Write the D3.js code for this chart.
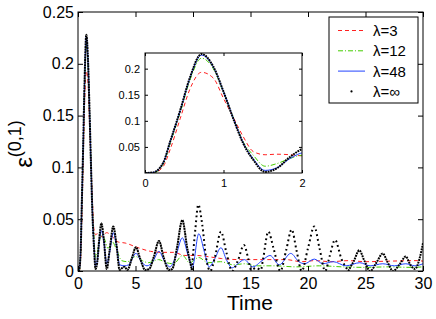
<!DOCTYPE html>
<html>
<head>
<meta charset="utf-8">
<script src="https://cdn.jsdelivr.net/npm/d3@7"></script>
<style>
  body { margin: 0; background: #fff; }
  text { font-family: "Liberation Sans", Arial, Helvetica, sans-serif; }
</style>
</head>
<body>
<div id="chart"></div>
<script>
// ---- data ----
const infT = [0, 0.1, 0.23, 0.32, 0.45, 0.57, 0.72, 0.87, 1.0, 1.13, 1.25, 1.38, 1.53, 1.68, 1.85, 2.03, 2.25, 2.5, 2.75, 3.07, 3.35, 3.62, 3.85, 4.05, 4.3, 4.7, 5.04, 5.4, 5.85, 6.2, 6.6, 7.04, 7.45, 7.9, 8.2, 8.6, 9.07, 9.5, 9.9, 10.2, 10.46, 10.8, 11.15, 11.5, 11.9, 12.43, 12.9, 13.4, 13.9, 14.43, 14.8, 15.05, 15.5, 15.9, 16.1, 16.55, 17.0, 17.6, 18.1, 18.58, 19.0, 19.45, 20.0, 20.55, 21.0, 21.5, 21.9, 22.35, 22.9, 23.5, 24.0, 24.46, 24.9, 25.4, 26.0, 26.5, 26.9, 27.4, 28.0, 28.5, 28.9, 29.3, 29.7, 30];
const infV = [0, 0.001, 0.019, 0.06, 0.121, 0.182, 0.228, 0.204, 0.156, 0.102, 0.057, 0.025, 0.002, 0.009, 0.031, 0.046, 0.03, 0.002, 0.02, 0.043, 0.025, 0.001, 0.003, 0.004, 0.001, 0.013, 0.023, 0.012, 0.001, 0.002, 0.014, 0.029, 0.013, 0.001, 0.002, 0.022, 0.049, 0.022, 0.001, 0.04, 0.064, 0.045, 0.012, 0.0, 0.013, 0.038, 0.018, 0.0, 0.01, 0.025, 0.012, 0.001, 0.003, 0.001, 0.012, 0.038, 0.022, 0.0, 0.02, 0.04, 0.02, 0.0, 0.022, 0.043, 0.022, 0.0, 0.015, 0.03, 0.012, 0.0, 0.01, 0.02, 0.01, 0.0, 0.009, 0.017, 0.009, 0.0, 0.007, 0.014, 0.006, 0.002, 0.012, 0.027];

const l48T = [0, 0.1, 0.23, 0.32, 0.45, 0.57, 0.72, 0.87, 1.0, 1.13, 1.25, 1.38, 1.53, 1.68, 1.85, 2.03, 2.25, 2.5, 2.75, 3.07, 3.35, 3.62, 4.05, 4.4, 5.04, 5.5, 6.0, 6.5, 7.04, 7.5, 8.0, 8.5, 9.07, 9.6, 9.95, 10.5, 11.0, 11.4, 11.9, 12.43, 12.9, 13.4, 13.9, 14.46, 15.2, 16.0, 16.7, 17.5, 18.5, 19.2, 19.7, 20.55, 21.3, 22.2, 23.3, 24.5, 25.4, 26.5, 27.5, 28.5, 29.3, 30];
const l48V = [0, 0.001, 0.019, 0.06, 0.12, 0.181, 0.226, 0.203, 0.156, 0.103, 0.058, 0.027, 0.005, 0.01, 0.028, 0.039, 0.028, 0.007, 0.018, 0.037, 0.024, 0.006, 0.005, 0.006, 0.017, 0.009, 0.005, 0.009, 0.019, 0.01, 0.004, 0.014, 0.032, 0.014, 0.004, 0.036, 0.018, 0.004, 0.012, 0.0225, 0.011, 0.003, 0.007, 0.011, 0.004, 0.01, 0.015, 0.006, 0.017, 0.009, 0.007, 0.0115, 0.007, 0.009, 0.005, 0.008, 0.005, 0.007, 0.005, 0.007, 0.005, 0.007];

const l12T = [0, 0.1, 0.23, 0.32, 0.45, 0.57, 0.72, 0.87, 1.0, 1.13, 1.25, 1.38, 1.53, 1.68, 1.85, 2.0, 2.3, 2.6, 3.0, 3.3, 3.8, 4.3, 5.0, 5.6, 6.1, 7.0, 7.7, 8.3, 9.1, 9.7, 10.5, 11.3, 12.4, 13.5, 14.5, 15.5, 17, 19, 21, 23, 25, 27, 29, 30];
const l12V = [0, 0.0, 0.017, 0.057, 0.117, 0.177, 0.22, 0.2, 0.155, 0.104, 0.06, 0.034, 0.013, 0.018, 0.028, 0.034, 0.031, 0.022, 0.028, 0.022, 0.01, 0.009, 0.014, 0.01, 0.008, 0.011, 0.008, 0.007, 0.015, 0.008, 0.013, 0.008, 0.009, 0.006, 0.007, 0.005, 0.005, 0.004, 0.005, 0.004, 0.0035, 0.004, 0.0035, 0.004];

const l3T = [0, 0.1, 0.23, 0.32, 0.45, 0.57, 0.72, 0.87, 1.0, 1.13, 1.25, 1.38, 1.53, 1.68, 1.85, 2.0, 2.5, 3.0, 3.5, 4.1, 5.1, 6.3, 7.3, 8.3, 9.3, 10.3, 11.2, 12.5, 14.1, 16, 18.1, 19.4, 20.6, 22, 23.5, 25, 27, 29.5, 30];
const l3V = [0, 0.0, 0.012, 0.045, 0.105, 0.16, 0.193, 0.182, 0.143, 0.105, 0.07, 0.041, 0.035, 0.036, 0.035, 0.033, 0.037, 0.033, 0.028, 0.027, 0.023, 0.019, 0.018, 0.018, 0.015, 0.015, 0.014, 0.012, 0.011, 0.011, 0.011, 0.009, 0.01, 0.009, 0.01, 0.009, 0.0095, 0.01, 0.0095];

const xTicks = [0, 5, 10, 15, 20, 25, 30];
const yTicks = [0, 0.05, 0.1, 0.15, 0.2, 0.25];
const insetXTicks = [0, 1, 2];
const insetYTicks = [0.05, 0.1, 0.15, 0.2];
const legendLabels = ["\u03bb=3", "\u03bb=12", "\u03bb=48", "\u03bb=\u221e"];

// ---- layout ----
var W = 436, H = 319;
var margin = { top: 12, right: 13, bottom: 48, left: 78 },
  width = W - margin.left - margin.right,
  height = H - margin.top - margin.bottom;

var svg = d3.select("#chart").append("svg")
  .attr("width", W).attr("height", H);

var series = [
  { t: l3T, v: l3V, color: "#ff2020", dash: "4,3", w: 1 },
  { t: l12T, v: l12V, color: "#44cc00", dash: "5,2,1,2", w: 1 },
  { t: l48T, v: l48V, color: "#2244ff", dash: null, w: 1 },
];

var fmt = function (d) { return String(+d.toFixed(2)); };

function drawCurves(g, x, y, clipId, inset) {
  var line = d3.line()
    .x(function (d) { return x(d[0]); })
    .y(function (d) { return y(d[1]); })
    .curve(d3.curveMonotoneX);
  var cg = g.append("g").attr("clip-path", "url(#" + clipId + ")");
  series.forEach(function (s) {
    cg.append("path")
      .datum(d3.zip(s.t, s.v))
      .attr("d", line)
      .attr("fill", "none")
      .attr("stroke", s.color)
      .attr("stroke-width", s.w)
      .attr("stroke-dasharray", s.dash);
  });
  // lambda = infinity: dotted black
  var pts = d3.zip(infT, infV);
  if (inset) {
    cg.append("path").datum(pts).attr("d", line)
      .attr("fill", "none").attr("stroke", "#000")
      .attr("stroke-width", 2).attr("stroke-dasharray", "1.8,0.8");
  } else {
    var early = pts.filter(function (d) { return d[0] <= 9.9; });
    var mid = pts.filter(function (d) { return d[0] >= 9.9 && d[0] <= 23.5; });
    var late = pts.filter(function (d) { return d[0] >= 23.5; });
    [[early, "2,0.6"], [mid, "1.8,3"], [late, "1.8,0.9"]].forEach(function (p) {
      cg.append("path").datum(p[0]).attr("d", line)
        .attr("fill", "none").attr("stroke", "#000")
        .attr("stroke-width", 2).attr("stroke-dasharray", p[1]);
    });
  }
}

// ---- main axes ----
var x = d3.scaleLinear().domain([0, 30]).range([0, width]);
var y = d3.scaleLinear().domain([0, 0.25]).range([height, 0]);

var g = svg.append("g")
  .attr("transform", "translate(" + margin.left + "," + margin.top + ")");

g.append("clipPath").attr("id", "clipMain")
  .append("rect").attr("width", width).attr("height", height + 1).attr("y", -1);

drawCurves(g, x, y, "clipMain", false);

g.append("g").attr("transform", "translate(0," + height + ")")
  .call(d3.axisBottom(x).tickValues(xTicks).tickSizeInner(-5).tickSizeOuter(0).tickPadding(7).tickFormat(fmt));
g.append("g")
  .call(d3.axisLeft(y).tickValues(yTicks).tickSizeInner(-5).tickSizeOuter(0).tickPadding(4).tickFormat(fmt));
g.append("g")
  .call(d3.axisTop(x).tickValues(xTicks).tickSizeInner(-5).tickSizeOuter(0).tickFormat(""));
g.append("g").attr("transform", "translate(" + width + ",0)")
  .call(d3.axisRight(y).tickValues(yTicks).tickSizeInner(-5).tickSizeOuter(0).tickFormat(""));
g.selectAll(".domain").remove();
g.selectAll(".tick text").style("font-size", "16px").attr("fill", "#000");
g.append("rect").attr("width", width).attr("height", height)
  .attr("fill", "none").attr("stroke", "#000").attr("stroke-width", 1);

// axis labels
svg.append("text")
  .attr("x", 250).attr("y", 310)
  .attr("text-anchor", "middle")
  .style("font-size", "21px")
  .text("Time");

var yl = svg.append("text")
  .attr("transform", "translate(32,144) rotate(-90)")
  .attr("text-anchor", "middle");
yl.append("tspan").style("font-size", "24px").text("\u03b5");
yl.append("tspan").style("font-size", "18px").attr("dy", -11).text("(0,1)");

// ---- inset ----
var ix0 = 145, iy0 = 53, iw = 157, ih = 120;
var ix = d3.scaleLinear().domain([0, 2]).range([0, iw]);
var iy = d3.scaleLinear().domain([0, 0.23]).range([ih, 0]);
var ig = svg.append("g").attr("transform", "translate(" + ix0 + "," + iy0 + ")");
ig.append("rect").attr("width", iw).attr("height", ih).attr("fill", "#fff");
ig.append("clipPath").attr("id", "clipInset")
  .append("rect").attr("width", iw).attr("height", ih + 1).attr("y", -1);
drawCurves(ig, ix, iy, "clipInset", true);

ig.append("g").attr("transform", "translate(0," + ih + ")")
  .call(d3.axisBottom(ix).tickValues(insetXTicks).tickSizeInner(-3).tickSizeOuter(0).tickPadding(6).tickFormat(fmt));
ig.append("g")
  .call(d3.axisLeft(iy).tickValues(insetYTicks).tickSizeInner(-3).tickSizeOuter(0).tickPadding(5).tickFormat(fmt));
ig.append("g")
  .call(d3.axisTop(ix).tickValues(insetXTicks).tickSizeInner(-3).tickSizeOuter(0).tickFormat(""));
ig.append("g").attr("transform", "translate(" + iw + ",0)")
  .call(d3.axisRight(iy).tickValues(insetYTicks).tickSizeInner(-3).tickSizeOuter(0).tickFormat(""));
ig.selectAll(".domain").remove();
ig.selectAll(".tick text").style("font-size", "11px").attr("fill", "#000");
ig.append("rect").attr("width", iw).attr("height", ih)
  .attr("fill", "none").attr("stroke", "#000").attr("stroke-width", 1);

// ---- legend ----
var lg = svg.append("g").attr("transform", "translate(329,17)");
lg.append("rect").attr("width", 89).attr("height", 86)
  .attr("fill", "#fff").attr("stroke", "#000").attr("stroke-width", 1);
var legendStyles = [
  { color: "#ff2020", dash: "4,3" },
  { color: "#44cc00", dash: "5,2,1,2" },
  { color: "#2244ff", dash: null },
  { color: "#000", dot: true },
];
legendLabels.forEach(function (lab, i) {
  var yy = 13.5 + i * 20.3;
  var st = legendStyles[i];
  if (st.dot) {
    lg.append("circle").attr("cx", 22.5).attr("cy", yy).attr("r", 1.1).attr("fill", "#000");
  } else {
    lg.append("line").attr("x1", 9).attr("x2", 36).attr("y1", yy).attr("y2", yy)
      .attr("stroke", st.color).attr("stroke-width", 1).attr("stroke-dasharray", st.dash);
  }
  lg.append("text").attr("x", 44).attr("y", yy + 5.5)
    .style("font-size", "15px").text(lab);
});
</script>
</body>
</html>
